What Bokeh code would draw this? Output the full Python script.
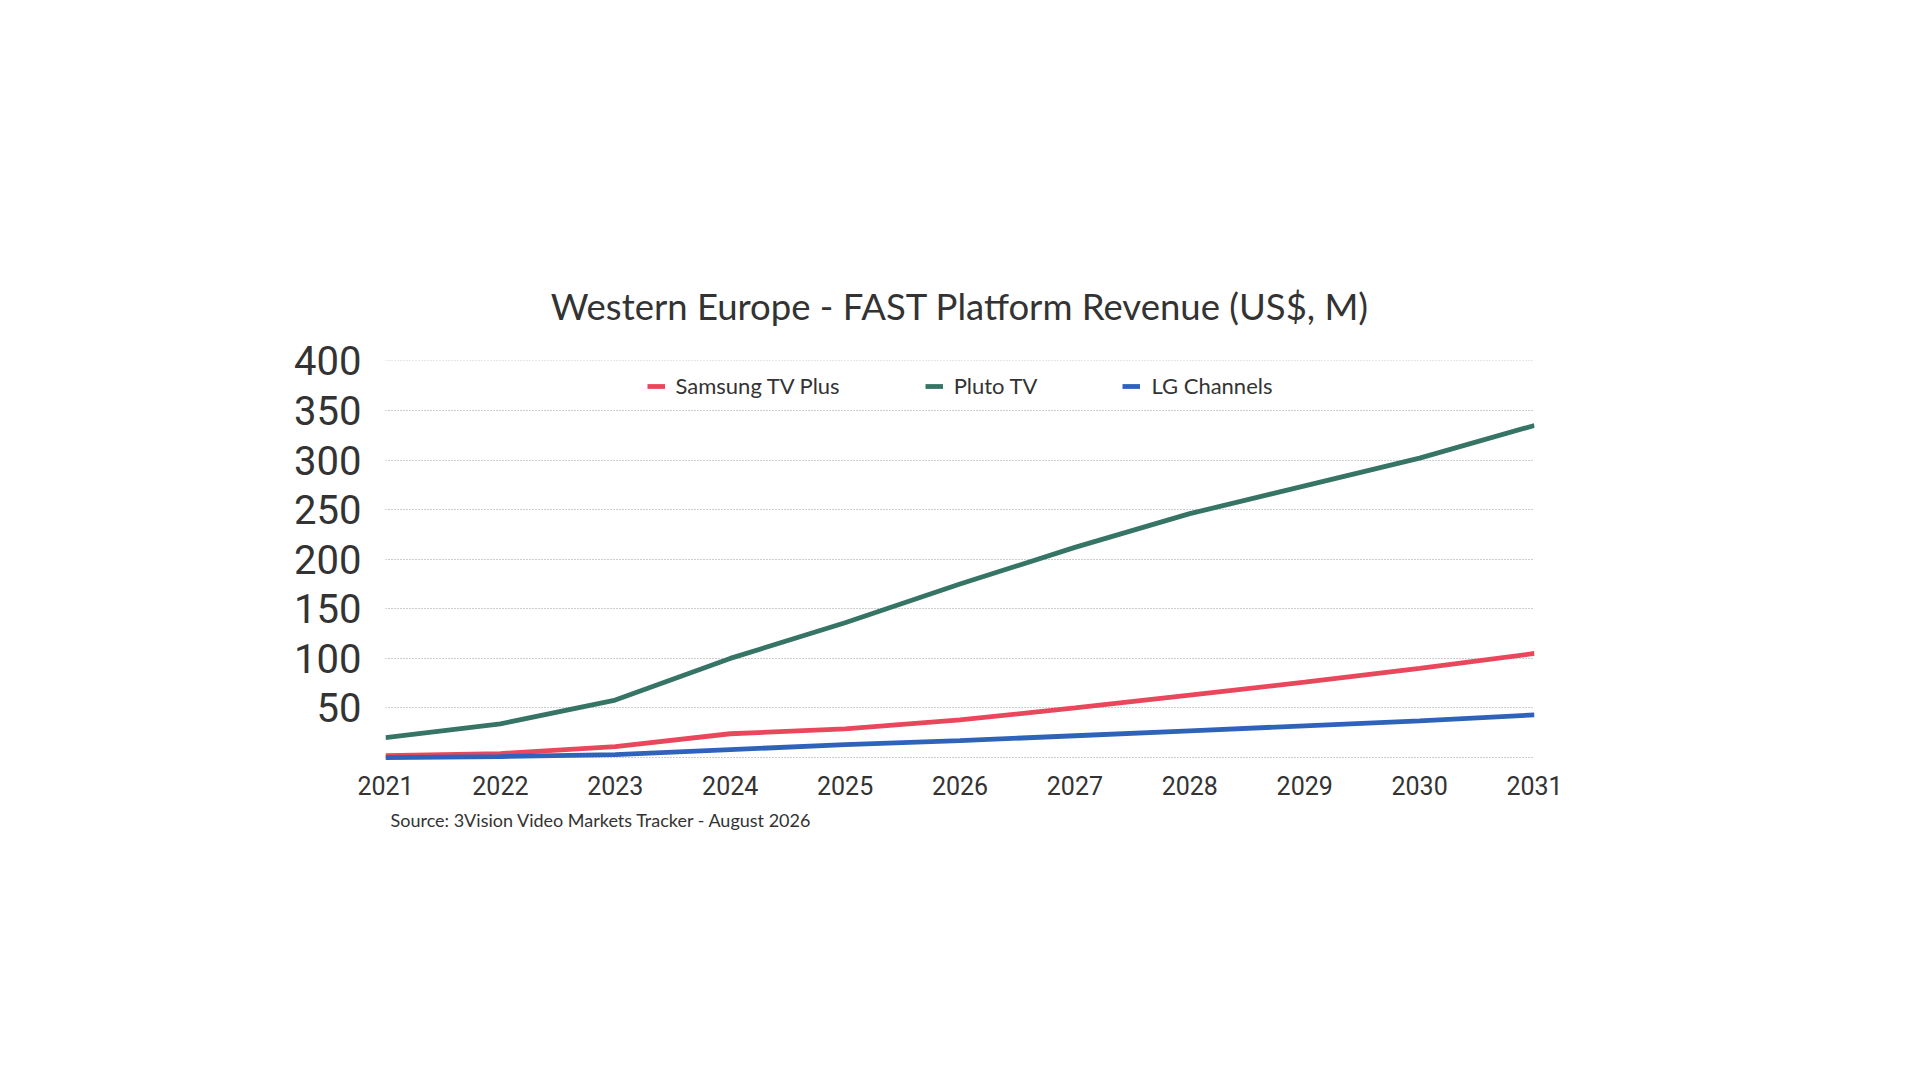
from bokeh.embed import file_html
from bokeh.models import FixedTicker, Legend, LegendItem, Range1d, Title
from bokeh.plotting import figure
from bokeh.resources import INLINE

years = [2021, 2022, 2023, 2024, 2025, 2026, 2027, 2028, 2029, 2030, 2031]
samsung = [2, 4, 11, 24, 29, 38, 50, 63, 76, 90, 105]
pluto = [20, 34, 58, 100, 136, 175, 212, 246, 274, 302, 335]
lg = [0, 1, 3, 8, 13, 17, 22, 27, 32, 37, 43]
y_ticks = [0, 50, 100, 150, 200, 250, 300, 350, 400]

series = [
    ("Samsung TV Plus", samsung, "#e9475b"),
    ("Pluto TV", pluto, "#367566"),
    ("LG Channels", lg, "#2f62bb"),
]

SANS = "Lato, 'Open Sans', sans-serif"
NUM = "Roboto, 'Liberation Sans', sans-serif"
INK = "#333333"

p = figure(width=1900, height=1060,
           x_range=Range1d(2021, 2031), y_range=Range1d(-5, 400.5),
           toolbar_location=None, output_backend="svg",
           min_border_left=385, min_border_right=366,
           min_border_top=360, min_border_bottom=298,
           outline_line_color=None, background_fill_color="white",
           border_fill_color="white")

p.title.text = "Western Europe - FAST Platform Revenue (US$, M)"
p.title.align = "center"
p.title.text_font = SANS
p.title.text_font_size = "36.5px"
p.title.text_font_style = "normal"
p.title.text_color = INK
p.title.standoff = 65

# lines
items = []
for name, vals, col in series:
    r = p.line(years, vals, line_color=col, line_width=4.8)
    items.append(LegendItem(label=name, renderers=[r]))

legend = Legend(items=items, orientation="horizontal", location="top_center",
                border_line_color=None, background_fill_alpha=0,
                glyph_width=18, glyph_height=20, label_standoff=11,
                spacing=85, margin=12, padding=6,
                label_text_font=SANS, label_text_font_size="22px",
                label_text_color=INK)
p.add_layout(legend, "center")

# axes
p.xaxis.ticker = FixedTicker(ticks=years)
p.yaxis.ticker = FixedTicker(ticks=y_ticks)
p.yaxis.major_label_overrides = {0: ""}
for ax in (p.xaxis, p.yaxis):
    ax.axis_line_color = None
    ax.major_tick_line_color = None
    ax.minor_tick_line_color = None
    ax.major_tick_out = 0
    ax.major_label_text_font = NUM
    ax.major_label_text_color = INK
p.xaxis.major_label_text_font_size = "25px"
p.xaxis.major_label_standoff = 13
p.yaxis.major_label_text_font_size = "40px"
p.yaxis.major_label_standoff = 24

p.xgrid.grid_line_color = None
p.ygrid.grid_line_color = "#9a9a9a"
p.ygrid.grid_line_dash = "1 2"
p.ygrid.grid_line_width = 1

source = Title(text="Source: 3Vision Video Markets Tracker - August 2026",
               align="left", offset=5, standoff=18,
               text_font=SANS, text_font_size="18px",
               text_font_style="normal", text_color=INK)
p.add_layout(source, "below")

open("out.html", "w").write(file_html(p, INLINE))
